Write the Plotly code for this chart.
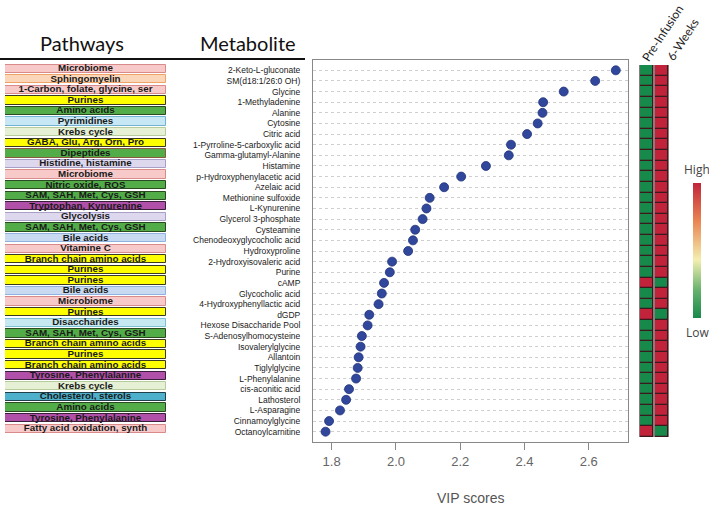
import plotly.graph_objects as go

# ---------------- data ----------------
metabolites = [
    "2-Keto-L-gluconate", "SM(d18:1/26:0 OH)", "Glycine", "1-Methyladenine", "Alanine",
    "Cytosine", "Citric acid", "1-Pyrroline-5-carboxylic acid", "Gamma-glutamyl-Alanine",
    "Histamine", "p-Hydroxyphenylacetic acid", "Azelaic acid", "Methionine sulfoxide",
    "L-Kynurenine", "Glycerol 3-phosphate", "Cysteamine", "Chenodeoxyglycocholic acid",
    "Hydroxyproline", "2-Hydroxyisovaleric acid", "Purine", "cAMP", "Glycocholic acid",
    "4-Hydroxyphenyllactic acid", "dGDP", "Hexose Disaccharide Pool",
    "S-Adenosylhomocysteine", "Isovalerylglycine", "Allantoin", "Tiglylglycine",
    "L-Phenylalanine", "cis-aconitic acid", "Lathosterol", "L-Asparagine",
    "Cinnamoylglycine", "Octanoylcarnitine",
]
vip_scores = [
    2.684, 2.620, 2.522, 2.458, 2.456, 2.441, 2.408, 2.358, 2.351, 2.280,
    2.203, 2.150, 2.105, 2.095, 2.083, 2.060, 2.053, 2.038, 1.988, 1.981,
    1.963, 1.956, 1.946, 1.917, 1.912, 1.894, 1.890, 1.884, 1.881, 1.876,
    1.854, 1.845, 1.826, 1.792, 1.781,
]
pathways = [
    "Microbiome", "Sphingomyelin", "1-Carbon, folate, glycine, ser", "Purines", "Amino acids",
    "Pyrimidines", "Krebs cycle", "GABA, Glu, Arg, Orn, Pro", "Dipeptides", "Histidine, histamine",
    "Microbiome", "Nitric oxide, ROS", "SAM, SAH, Met, Cys, GSH", "Tryptophan, Kynurenine",
    "Glycolysis", "SAM, SAH, Met, Cys, GSH", "Bile acids", "Vitamine C", "Branch chain amino acids",
    "Purines", "Purines", "Bile acids", "Microbiome", "Purines", "Disaccharides",
    "SAM, SAH, Met, Cys, GSH", "Branch chain amino acids", "Purines", "Branch chain amino acids",
    "Tyrosine, Phenylalanine", "Krebs cycle", "Cholesterol, sterols", "Amino acids",
    "Tyrosine, Phenylalanine", "Fatty acid oxidation, synth",
]
groups = ["Pre-Infusion", "6-Weeks"]
# 1 = High, 0 = Low
pre_infusion = [0] * 35
six_weeks = [1] * 35
for i in (20, 23, 34):
    pre_infusion[i] = 1
    six_weeks[i] = 0
x_ticks = [1.8, 2.0, 2.2, 2.4, 2.6]

# ---------------- styles ----------------
PINK = ("#f7c9c9", "#d98a8a")
YEL = ("#ffff00", "#3a3a20")
GRN = ("#52ad48", "#2b4a22")
LAV = ("#ded8ee", "#a9a0c8")
MAG = ("#b050a8", "#3a1f38")
pathway_style = {
    "Microbiome": PINK,
    "Sphingomyelin": ("#fcd6b8", "#eea468"),
    "1-Carbon, folate, glycine, ser": PINK,
    "Purines": YEL,
    "Amino acids": GRN,
    "Pyrimidines": ("#c8e7f4", "#6fb3d0"),
    "Krebs cycle": ("#e6f0d4", "#b7cc9c"),
    "GABA, Glu, Arg, Orn, Pro": YEL,
    "Dipeptides": ("#52ad48", "#8a5a40"),
    "Histidine, histamine": LAV,
    "Nitric oxide, ROS": GRN,
    "SAM, SAH, Met, Cys, GSH": GRN,
    "Tryptophan, Kynurenine": MAG,
    "Glycolysis": LAV,
    "Bile acids": ("#c8daf2", "#8fb2de"),
    "Vitamine C": PINK,
    "Branch chain amino acids": YEL,
    "Disaccharides": ("#c6e8f0", "#7cc0d4"),
    "Tyrosine, Phenylalanine": MAG,
    "Cholesterol, sterols": ("#4eb0cb", "#1f3f4a"),
    "Fatty acid oxidation, synth": PINK,
}

W, H = 709, 507
def px_x(p):
    return p / W
def px_y(p):
    return 1 - p / H

fig = go.Figure()

# Pathway boxes (bars) on axis 3
fig.add_trace(go.Bar(
    x=[1] * len(metabolites), y=metabolites, orientation="h", width=0.78,
    marker=dict(color=[pathway_style[p][0] for p in pathways],
                line=dict(color=[pathway_style[p][1] for p in pathways], width=1)),
    xaxis="x3", yaxis="y3", hoverinfo="skip", showlegend=False,
))
fig.add_trace(go.Scatter(
    x=[0.5] * len(metabolites), y=metabolites, mode="text", text=pathways,
    textfont=dict(family="Liberation Sans", size=9.8, color="#1a1a1a", weight="bold"),
    textposition="middle center",
    xaxis="x3", yaxis="y3", hoverinfo="skip", showlegend=False,
))

# VIP scatter
fig.add_trace(go.Scatter(
    x=vip_scores, y=metabolites, mode="markers",
    marker=dict(size=9, color="#30479b", line=dict(color="#22347a", width=0.8)),
    showlegend=False,
))

# heatmap
z = [[a, b] for a, b in zip(pre_infusion, six_weeks)]
fig.add_trace(go.Heatmap(
    z=z, x=groups, y=metabolites, zmin=0, zmax=1, xgap=3, ygap=1.3,
    colorscale=[[0, "#178a4b"], [0.2, "#63b06c"], [0.43, "#f3efb0"],
                [0.72, "#ea8452"], [1, "#c1243a"]],
    xaxis="x2", yaxis="y2",
    colorbar=dict(thickness=8, len=135, lenmode="pixels", x=px_x(693), xanchor="left",
                  y=px_y(183), yanchor="top", outlinewidth=0, showticklabels=False,
                  ticks="", xpad=0, ypad=0),
))

cat_axis = dict(type="category", categoryorder="array", categoryarray=metabolites)

fig.update_layout(
    width=W, height=H, margin=dict(l=0, r=0, t=0, b=0),
    paper_bgcolor="white", plot_bgcolor="white",
    xaxis=dict(domain=[px_x(313), px_x(628)], range=[1.742, 2.722],
               tickvals=x_ticks, ticktext=[f"{v:.1f}" for v in x_ticks],
               ticks="outside", ticklen=7, tickcolor="#888", showgrid=False,
               zeroline=False, showline=True, linecolor="#888", mirror=True,
               tickfont=dict(family="Liberation Sans", size=13, color="#666"),
               anchor="y"),
    yaxis=dict(domain=[px_y(442), px_y(60)], range=[34.97, -0.97], **cat_axis,
               tickmode="array", tickvals=metabolites, ticktext=metabolites,
               showgrid=True, gridcolor="#cfcfcf", griddash="dot", gridwidth=1,
               ticks="", ticklabelstandoff=10, showline=True, linecolor="#888", mirror=True,
               tickfont=dict(family="Liberation Sans", size=8.5, color="#1a1a1a"),
               anchor="x"),
    xaxis2=dict(domain=[px_x(639), px_x(669)], range=[-0.5, 1.5], visible=False, anchor="y2"),
    yaxis2=dict(domain=[px_y(437), px_y(65)], range=[34.5, -0.5], **cat_axis,
                visible=False, anchor="x2"),
    xaxis3=dict(domain=[px_x(5), px_x(166)], range=[0, 1], visible=False, anchor="y3"),
    yaxis3=dict(domain=[px_y(442), px_y(60)], range=[35.26, -0.82], **cat_axis,
                visible=False, anchor="x3"),
    bargap=0,
)

# cell borders behind heatmap
fig.add_shape(type="rect", xref="x2", yref="y2", x0=-0.5, x1=1.5, y0=-0.5, y1=34.5,
              fillcolor="#dcdcdc", line_width=0, layer="below")
for c in (0, 1):
    fig.add_shape(type="rect", xref="x2", yref="y2", x0=c - 0.5 + 1 / 15, x1=c + 0.5 - 1 / 15,
                  y0=-0.5, y1=34.5, fillcolor="#3a1a1e", line=dict(color="#3a1a1e", width=1),
                  layer="below")

# header line
fig.add_shape(type="line", xref="paper", yref="paper", x0=0, x1=px_x(305),
              y0=px_y(59), y1=px_y(59), line=dict(color="#111", width=2))

ann = [
    dict(text="Pathways", x=px_x(82), y=px_y(43), size=20, family="Lato", color="#111", angle=0),
    dict(text="Metabolite", x=px_x(248), y=px_y(43), size=20, family="Lato", color="#111", angle=0),
    dict(text="VIP scores", x=px_x(470), y=px_y(498), size=14, family="Liberation Sans", color="#555", angle=0),
    dict(text="High", x=px_x(697), y=px_y(170), size=12, family="Open Sans", color="#444", angle=0),
    dict(text="Low", x=px_x(697), y=px_y(332), size=12, family="Open Sans", color="#444", angle=0),
    dict(text="Pre-Infusion", x=px_x(662), y=px_y(33), size=12, family="Lato", color="#222", angle=-57),
    dict(text="6-Weeks", x=px_x(683), y=px_y(40), size=12, family="Lato", color="#222", angle=-57),
]
for a in ann:
    fig.add_annotation(text=a["text"], x=a["x"], y=a["y"], xref="paper", yref="paper",
                       showarrow=False, xanchor="center", yanchor="middle",
                       textangle=a["angle"],
                       font=dict(family=a["family"], size=a["size"], color=a["color"]))

fig.write_html("out.html", config={"displayModeBar": False},
               post_script="document.body.style.margin='0';")
